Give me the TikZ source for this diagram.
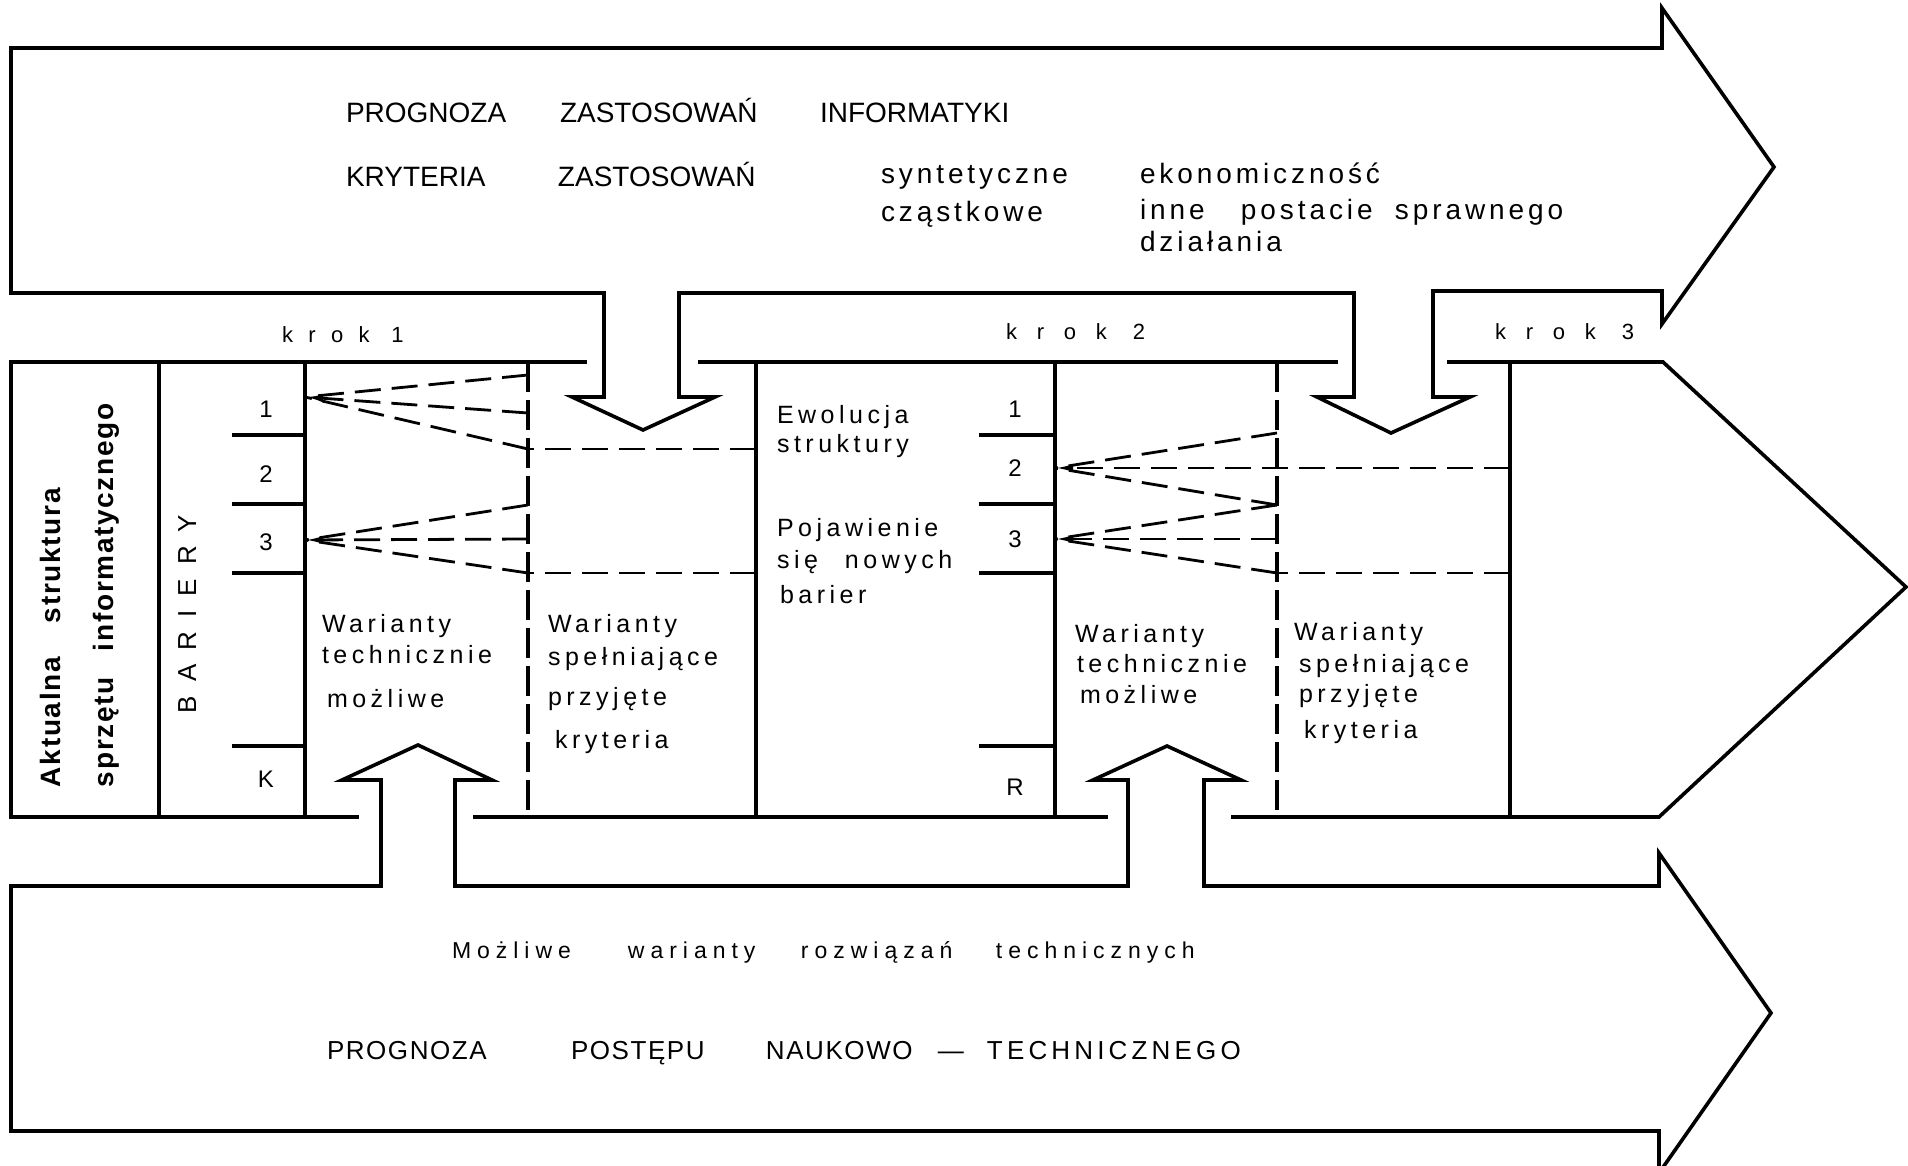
\documentclass[tikz,border=0pt]{standalone}
\usepackage{fontspec}
\usetikzlibrary{arrows.meta}
\setmainfont{Liberation Sans}
\newfontfamily\plainsans{Liberation Sans}
\newfontfamily\widesans[LetterSpace=14]{Liberation Sans}
\newfontfamily\midsans[LetterSpace=18]{Liberation Sans}
\newfontfamily\kroksans[LetterSpace=90]{Liberation Sans}
\newfontfamily\kroknarrow[LetterSpace=70]{Liberation Sans}
\newfontfamily\lowsans[LetterSpace=26]{Liberation Sans}
\newfontfamily\barsans[LetterSpace=54]{Liberation Sans}
\newfontfamily\capsans[LetterSpace=6]{Liberation Sans}
\newfontfamily\techsans[LetterSpace=16]{Liberation Sans}
\newfontfamily\vertsans[LetterSpace=6]{Liberation Sans}
% a word set in a box of fixed width, so that the next word starts at a fixed place
\newcommand\wordbox[2]{\makebox[#1pt][l]{#2}}

\tikzset{
  outline/.style={line width=1.8pt, line join=miter, miter limit=20},
  colline/.style={line width=1.7pt},
  dashcol/.style={line width=1.6pt, dash pattern=on 15pt off 4pt},
  link/.style={line width=1.4pt, dash pattern=on 13pt off 5.5pt},
  tip/.style={-{Latex[length=9pt,width=4pt]}},
  lbl/.style={anchor=base west, inner sep=0pt, outer sep=0pt},
  num/.style={anchor=base, inner sep=0pt, font=\fontsize{12}{14}\plainsans},
  toptext/.style={font=\fontsize{14}{16}\plainsans},
  toplow/.style={font=\fontsize{14}{16}\widesans},
  midtext/.style={font=\fontsize{12.5}{15}\midsans},
  kroktext/.style={font=\fontsize{11}{13}\kroksans},
  botlow/.style={font=\fontsize{11.5}{14}\lowsans},
  botcaps/.style={font=\fontsize{13}{15}\capsans},
  vtext/.style={font=\fontsize{14}{16}\vertsans\bfseries},
  bartext/.style={font=\fontsize{13}{15}\barsans},
}

\begin{document}
\begin{tikzpicture}[x=0.5pt, y=-0.5pt]
\useasboundingbox (0,0) rectangle (1908,1166);
\fill[white] (0,0) rectangle (1908,1166);

% ---------- upper arrow: forecast of applications, with two arrows pointing down ----------
\draw[outline] (11,48) -- (1662,48) -- (1662,8) -- (1774,167) -- (1662,324) -- (1662,291)
  -- (1433,291) -- (1433,397) -- (1470,397) -- (1391,433) -- (1317,397) -- (1354,397)
  -- (1354,293) -- (679,293) -- (679,397) -- (715,397) -- (643,430) -- (572,397)
  -- (604,397) -- (604,293) -- (11,293) -- cycle;

% ---------- middle band: the steps ----------
\draw[outline] (587,362) -- (11,362) -- (11,817) -- (359,817);
\draw[outline] (473,817) -- (1108,817);
\draw[outline] (1231,817) -- (1659,817) -- (1906,587) -- (1663,362) -- (1447,362);
\draw[outline] (698,362) -- (1338,362);

% column rules
\draw[colline] (159,362) -- (159,817);
\draw[colline] (305,362) -- (305,817);
\draw[colline] (756,362) -- (756,817);
\draw[colline] (1055,362) -- (1055,817);
\draw[colline] (1510,362) -- (1510,817);
\draw[dashcol] (528,362) -- (528,817);
\draw[dashcol] (1277,362) -- (1277,817);

% barrier ticks, step 1 and step 2
\foreach \yy in {435,504,573,746} {
  \draw[colline] (232,\yy) -- (305,\yy);
  \draw[colline] (979,\yy) -- (1055,\yy);
}

% ---------- lower arrow: forecast of technical progress, with two arrows pointing up ----------
\draw[outline] (11,886) -- (381,886) -- (381,780) -- (342,780) -- (418,745) -- (492,780)
  -- (455,780) -- (455,886) -- (1128,886) -- (1128,780) -- (1093,780) -- (1167,746)
  -- (1241,780) -- (1204,780) -- (1204,886) -- (1659,886) -- (1659,853) -- (1771,1013)
  -- (1659,1173) -- (1659,1131) -- (11,1131) -- cycle;

% ---------- points on the rules joined by dashed links ----------
\coordinate (b1) at (305,397);
\coordinate (b3) at (305,540);
\coordinate (d1a) at (528,375);
\coordinate (d1b) at (528,413);
\coordinate (d1c) at (528,449);
\coordinate (d3a) at (528,505);
\coordinate (d3b) at (528,539);
\coordinate (d3c) at (528,573);
\coordinate (e1) at (756,449);
\coordinate (e3) at (756,573);
\coordinate (c2) at (1055,468);
\coordinate (c3) at (1055,539);
\coordinate (f2a) at (1277,433);
\coordinate (f23) at (1277,505);
\coordinate (f3b) at (1277,539);
\coordinate (f3c) at (1277,573);
\coordinate (g2) at (1510,468);
\coordinate (g3) at (1510,573);

\draw[link] (d1a) -- (b1);
\draw[link,tip] (d1b) -- (b1);
\draw[link] (d1c) -- (b1);
\draw[link] (e1) -- (d1c);
\draw[link] (d3a) -- (b3);
\draw[link,tip] (d3b) -- (b3);
\draw[link] (d3c) -- (b3);
\draw[link] (e3) -- (d3c);

\draw[link] (f2a) -- (c2);
\draw[link,tip] (g2) -- (c2);
\draw[link] (f23) -- (c2);
\draw[link] (f23) -- (c3);
\draw[link,tip] (f3b) -- (c3);
\draw[link] (f3c) -- (c3);
\draw[link] (g3) -- (f3c);

% ---------- texts of the upper arrow ----------
\node[lbl, toptext] (head) at (346,123)
  {\wordbox{107}{PROGNOZA}\wordbox{130}{ZASTOSOWAŃ}INFORMATYKI};
\node[lbl, toptext] (crit) at (346,187) {\wordbox{106}{KRYTERIA}ZASTOSOWAŃ};
\node[lbl, toplow] (synt) at (881,184) {syntetyczne};
\node[lbl, toplow] (czast) at (881,222) {cząstkowe};
\node[lbl, toplow] (ekon) at (1140,184) {ekonomiczność};
\node[lbl, toplow] (inne) at (1140,220)
  {\wordbox{50.5}{inne}\wordbox{77}{postacie}sprawnego};
\node[lbl, toplow] (dzial) at (1140,252) {działania};

% step labels
\node[lbl, font=\fontsize{11}{13}\kroknarrow] (k1) at (282,343) {krok 1};
\node[lbl, kroktext] (k2) at (1006,340) {krok 2};
\node[lbl, kroktext] (k3) at (1495,340) {krok 3};

% ---------- texts of the middle band ----------
\node[lbl, vtext, rotate=90] (akt) at (61,787) {\wordbox{82}{Aktualna}struktura};
\node[lbl, vtext, rotate=90] (sprz) at (113,787) {\wordbox{68}{sprzętu}informatycznego};
\node[lbl, bartext, rotate=90] (bar) at (196,713) {BARIERY};

\node[num] (n11) at (266,417) {1};
\node[num] (n12) at (266,482) {2};
\node[num] (n13) at (266,550) {3};
\node[num] (n1k) at (266,787) {K};
\node[num] (n21) at (1015,418) {1};
\node[num] (n22) at (1015,477) {2};
\node[num] (n23) at (1015,547) {3};
\node[num] (n2r) at (1015,795) {R};

\node[lbl, midtext] (w1a) at (322,632) {Warianty};
\node[lbl, midtext] (w1b) at (322,663) {technicznie};
\node[lbl, midtext] (w1c) at (327,707) {możliwe};
\node[lbl, midtext] (s1a) at (548,632) {Warianty};
\node[lbl, midtext] (s1b) at (548,665) {spełniające};
\node[lbl, midtext] (s1c) at (548,705) {przyjęte};
\node[lbl, midtext] (s1d) at (555,748) {kryteria};

\node[lbl, midtext] (ew1) at (777,423) {Ewolucja};
\node[lbl, midtext] (ew2) at (777,452) {struktury};
\node[lbl, midtext] (po1) at (777,537) {Pojawienie};
\node[lbl, midtext] (po2) at (777,568) {\wordbox{34}{się}nowych};
\node[lbl, midtext] (po3) at (780,603) {barier};

\node[lbl, midtext] (w2a) at (1075,642) {Warianty};
\node[lbl, midtext] (w2b) at (1077,672) {technicznie};
\node[lbl, midtext] (w2c) at (1080,703) {możliwe};
\node[lbl, midtext] (s2a) at (1294,640) {Warianty};
\node[lbl, midtext] (s2b) at (1299,672) {spełniające};
\node[lbl, midtext] (s2c) at (1299,702) {przyjęte};
\node[lbl, midtext] (s2d) at (1304,738) {kryteria};

% ---------- texts of the lower arrow ----------
\node[lbl, botlow] (mozl) at (452,958)
  {\wordbox{88}{Możliwe}\wordbox{86.5}{warianty}\wordbox{97.5}{rozwiązań}technicznych};
\node[lbl, botcaps] (prog) at (327,1059)
  {\wordbox{122}{PROGNOZA}\wordbox{97.5}{POSTĘPU}\wordbox{86}{NAUKOWO}\wordbox{24.5}{—}{\techsans TECHNICZNEGO}};
\end{tikzpicture}
\end{document}
